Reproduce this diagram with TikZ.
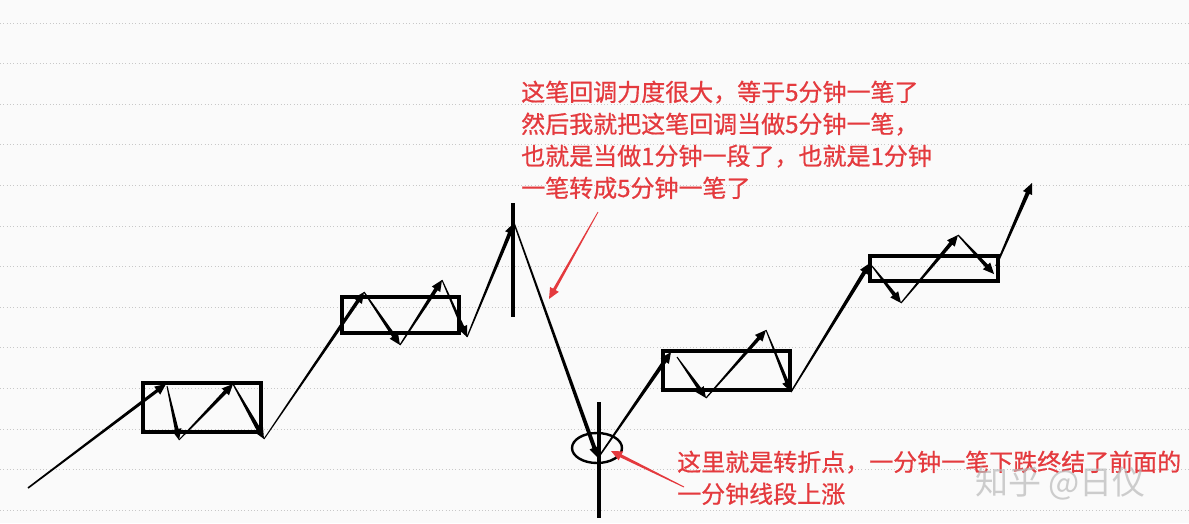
\documentclass[tikz,border=0pt]{standalone}
\usepackage{fontspec}
\newfontfamily\cjk[FakeBold=0.7]{Noto Sans CJK SC}
\newfontfamily\cjkwm{Noto Sans CJK SC}
\usetikzlibrary{calc}
\definecolor{redtxt}{RGB}{228,58,62}
\definecolor{bgc}{RGB}{250,250,250}
\definecolor{gridc}{RGB}{200,200,200}
% tapered arrow: [colour]{from}{to}{half width at start}{half width at head}
\newcommand{\kseg}[5][black]{%
  \coordinate (kh) at ($(#3)!11pt!(#2)$);
  \fill[#1] ($(#2)!#4!90:(#3)$) -- ($(kh)!#5!-90:(#2)$) -- ($(kh)!5pt!-90:(#2)$)
    -- (#3) -- ($(kh)!5pt!90:(#2)$) -- ($(kh)!#5!90:(#2)$) -- ($(#2)!#4!-90:(#3)$) -- cycle;}
\tikzset{
  gridline/.style={gridc, line width=0.7pt, dash pattern=on 0.9pt off 2.4pt},
  boxline/.style={draw=black, line width=3.3pt},
  barline/.style={black, line width=3.4pt},
  txt/.style={font=\cjk\fontsize{24}{30}\selectfont, text=redtxt, inner sep=0pt, anchor=base west},
  wmark/.style={font=\cjkwm\fontsize{33}{33}\selectfont, text=gray!55, opacity=0.7, inner sep=0pt, anchor=base west}
}
\begin{document}
\begin{tikzpicture}[x=1pt,y=-1pt]
\fill[bgc] (0,0) rectangle (1189,523);
\useasboundingbox (0,0) rectangle (1189,523);
\foreach \k in {0,...,12} {
  \draw[gridline] (0,{23+40.6*\k}) -- (1189,{23+40.6*\k});
}
% points of the price path
\coordinate (p0) at (28,488);
\coordinate (p1) at (166,384);
\coordinate (p1b) at (167,386);
\coordinate (p2) at (179,440);
\coordinate (p3) at (233,384);
\coordinate (p4) at (264,439);
\coordinate (p5) at (364,292);
\coordinate (p6) at (400,345);
\coordinate (p7) at (442,280);
\coordinate (p8) at (467,337);
\coordinate (p9) at (514,223);
\coordinate (p10) at (598,458);
\coordinate (p11) at (671,352);
\coordinate (p11b) at (677,357);
\coordinate (p12) at (706,398);
\coordinate (p13) at (766,330);
\coordinate (p14) at (791,392);
\coordinate (p15) at (870,263);
\coordinate (p15b) at (872,266);
\coordinate (p16) at (901,303);
\coordinate (p17) at (958,235);
\coordinate (p18) at (994,274);
\coordinate (p18b) at (996,266);
\coordinate (p19) at (1032,183);
% boxes
\draw[boxline] (143,383) rectangle (261,432);
\draw[boxline] (342,297) rectangle (459,333);
\draw[boxline] (663,351) rectangle (790,390);
\draw[boxline] (870,256) rectangle (998,281);
% vertical bars and ellipse
\coordinate (v1a) at (513,203); \coordinate (v1b) at (513,317);
\coordinate (v2a) at (599,402); \coordinate (v2b) at (599,518);
\draw[barline] (v1a) -- (v1b);
\draw[barline] (v2a) -- (v2b);
\draw[black, line width=2.4pt] (597,448) ellipse [x radius=25, y radius=15];
% path segments
\kseg{p0}{p1}{0.8pt}{1.6pt}
\kseg{p1b}{p2}{0.5pt}{1.9pt}
\kseg{p2}{p3}{0.5pt}{1.9pt}
\kseg{p3}{p4}{0.6pt}{2.2pt}
\kseg{p4}{p5}{0.5pt}{1.8pt}
\kseg{p5}{p6}{0.6pt}{1.9pt}
\kseg{p6}{p7}{0.6pt}{1.9pt}
\kseg{p7}{p8}{0.5pt}{1.7pt}
\kseg{p8}{p9}{0.6pt}{1.9pt}
\kseg{p9}{p10}{0.7pt}{2pt}
\kseg{p10}{p11}{0.7pt}{2pt}
\kseg{p11b}{p12}{0.5pt}{1.9pt}
\kseg{p12}{p13}{0.6pt}{1.8pt}
\kseg{p13}{p14}{0.5pt}{1.8pt}
\kseg{p14}{p15}{0.7pt}{2pt}
\kseg{p15b}{p16}{0.6pt}{1.9pt}
\kseg{p16}{p17}{0.6pt}{1.9pt}
\kseg{p17}{p18}{0.6pt}{1.9pt}
\kseg{p18b}{p19}{0.8pt}{2pt}
% texts
\node[txt] (t1) at (521,101) {这笔回调力度很大，等于5分钟一笔了};
\node[txt] (t2) at (521,133) {然后我就把这笔回调当做5分钟一笔，};
\node[txt] (t3) at (521,165) {也就是当做1分钟一段了，也就是1分钟};
\node[txt] (t4) at (521,197) {一笔转成5分钟一笔了};
\node[txt] (t5) at (677,471) {这里就是转折点，一分钟一笔下跌终结了前面的};
\node[txt] (t6) at (677,503) {一分钟线段上涨};
% red pointers
\coordinate (r1a) at (598,212); \coordinate (r1b) at (549,299);
\coordinate (r2a) at (684,487); \coordinate (r2b) at (611,451);
\kseg[redtxt]{r1a}{r1b}{0.4pt}{1.5pt}
\kseg[redtxt]{r2a}{r2b}{0.5pt}{1.6pt}
% watermark
\node[wmark] (wm) at (975,494) {知乎 @日仪};
\end{tikzpicture}
\end{document}
